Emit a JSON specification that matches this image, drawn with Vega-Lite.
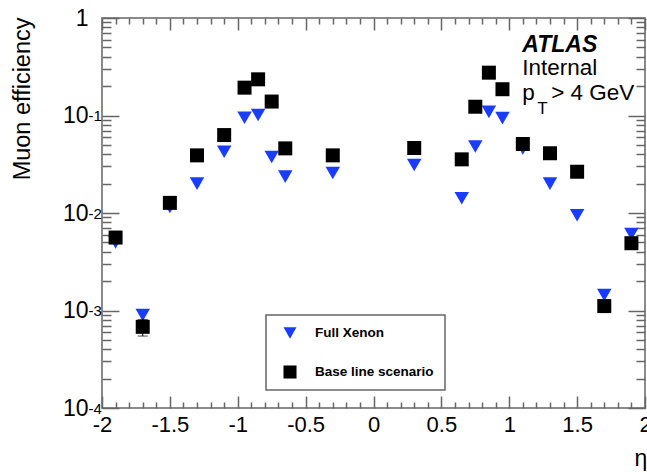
{
  "$schema": "https://vega.github.io/schema/vega-lite/v6.json",
  "width": 543,
  "height": 390,
  "autosize": {"type": "none"},
  "padding": {"left": 102, "top": 18, "right": 2, "bottom": 64},
  "background": "white",
  "config": {
    "view": {"stroke": "#666666", "strokeWidth": 1.5},
    "font": "Liberation Sans",
    "axis": {
      "labelFont": "Liberation Sans",
      "titleFont": "Liberation Sans",
      "labelColor": "black",
      "titleColor": "black",
      "tickColor": "#666666",
      "tickWidth": 1.5,
      "domain": false,
      "grid": false,
      "labelFontWeight": "normal",
      "titleFontWeight": "normal",
      "labelOverlap": false,
      "labelFlush": false
    },
    "legend": {
      "labelFont": "Liberation Sans",
      "labelFontSize": 13.5,
      "labelFontWeight": "bold",
      "labelColor": "black",
      "padding": 11,
      "rowPadding": 25,
      "symbolOffset": 6,
      "labelOffset": 18,
      "strokeColor": "#666666",
      "strokeWidth": 1.5,
      "fillColor": "white",
      "symbolSize": 170,
      "symbolStrokeWidth": 0
    }
  },
  "datasets": {
    "pts": [
      {"eta": -1.9, "eff": 0.0050, "series": "Full Xenon"},
      {"eta": -1.7, "eff": 0.00090, "series": "Full Xenon"},
      {"eta": -1.5, "eff": 0.0115, "series": "Full Xenon"},
      {"eta": -1.3, "eff": 0.020, "series": "Full Xenon"},
      {"eta": -1.1, "eff": 0.0425, "series": "Full Xenon"},
      {"eta": -0.95, "eff": 0.095, "series": "Full Xenon"},
      {"eta": -0.85, "eff": 0.101, "series": "Full Xenon"},
      {"eta": -0.75, "eff": 0.0375, "series": "Full Xenon"},
      {"eta": -0.65, "eff": 0.0236, "series": "Full Xenon"},
      {"eta": -0.3, "eff": 0.0257, "series": "Full Xenon"},
      {"eta": 0.3, "eff": 0.031, "series": "Full Xenon"},
      {"eta": 0.65, "eff": 0.0142, "series": "Full Xenon"},
      {"eta": 0.75, "eff": 0.048, "series": "Full Xenon"},
      {"eta": 0.85, "eff": 0.109, "series": "Full Xenon"},
      {"eta": 0.95, "eff": 0.094, "series": "Full Xenon"},
      {"eta": 1.1, "eff": 0.046, "series": "Full Xenon"},
      {"eta": 1.3, "eff": 0.020, "series": "Full Xenon"},
      {"eta": 1.5, "eff": 0.0095, "series": "Full Xenon"},
      {"eta": 1.7, "eff": 0.00144, "series": "Full Xenon"},
      {"eta": 1.9, "eff": 0.0061, "series": "Full Xenon"},
      {"eta": -1.9, "eff": 0.0056, "series": "Base line scenario"},
      {"eta": -1.7, "eff": 0.00068, "series": "Base line scenario", "lo": 0.000547, "hi": 0.00081},
      {"eta": -1.5, "eff": 0.0127, "series": "Base line scenario"},
      {"eta": -1.3, "eff": 0.039, "series": "Base line scenario"},
      {"eta": -1.1, "eff": 0.063, "series": "Base line scenario"},
      {"eta": -0.95, "eff": 0.193, "series": "Base line scenario"},
      {"eta": -0.85, "eff": 0.235, "series": "Base line scenario"},
      {"eta": -0.75, "eff": 0.139, "series": "Base line scenario"},
      {"eta": -0.65, "eff": 0.046, "series": "Base line scenario"},
      {"eta": -0.3, "eff": 0.039, "series": "Base line scenario"},
      {"eta": 0.3, "eff": 0.0464, "series": "Base line scenario"},
      {"eta": 0.65, "eff": 0.0355, "series": "Base line scenario"},
      {"eta": 0.75, "eff": 0.123, "series": "Base line scenario"},
      {"eta": 0.85, "eff": 0.275, "series": "Base line scenario"},
      {"eta": 0.95, "eff": 0.186, "series": "Base line scenario"},
      {"eta": 1.1, "eff": 0.051, "series": "Base line scenario"},
      {"eta": 1.3, "eff": 0.041, "series": "Base line scenario"},
      {"eta": 1.5, "eff": 0.0265, "series": "Base line scenario"},
      {"eta": 1.7, "eff": 0.00111, "series": "Base line scenario"},
      {"eta": 1.9, "eff": 0.0049, "series": "Base line scenario"}
    ],
    "ann": [
      {"x": 1.096, "y": 0.448, "t": "ATLAS"},
      {"x": 1.096, "y": 0.26, "t": "Internal"},
      {"x": 1.096, "y": 0.144, "t": "p"},
      {"x": 1.309, "y": 0.144, "t": "> 4 GeV"},
      {"x": 1.206, "y": 0.1036, "t": "T"}
    ]
  },
  "layer": [
    {
      "data": {"name": "pts"},
      "transform": [{"filter": "datum.series === 'Full Xenon'"}],
      "mark": {"type": "point", "filled": true, "opacity": 1, "size": 210},
      "encoding": {
        "x": {
          "field": "eta", "type": "quantitative",
          "scale": {"domain": [-2, 2], "nice": false, "zero": false},
          "axis": {
            "orient": "top", "labels": false, "title": null,
            "values": [-2,-1.9,-1.8,-1.7,-1.6,-1.5,-1.4,-1.3,-1.2,-1.1,-1,-0.9,-0.8,-0.7,-0.6,-0.5,-0.4,-0.3,-0.2,-0.1,0,0.1,0.2,0.3,0.4,0.5,0.6,0.7,0.8,0.9,1,1.1,1.2,1.3,1.4,1.5,1.6,1.7,1.8,1.9,2],
            "tickSize": {"condition": {"test": "abs(datum.value*2 - round(datum.value*2)) < 0.001", "value": -12}, "value": -6}
          }
        },
        "y": {
          "field": "eff", "type": "quantitative",
          "scale": {"type": "log", "domain": [0.0001, 1], "nice": false},
          "axis": {
            "orient": "right", "labels": false, "title": null,
            "values": [0.0001,0.0002,0.0003,0.0004,0.0005,0.0006,0.0007,0.0008,0.0009,0.001,0.002,0.003,0.004,0.005,0.006,0.007,0.008,0.009,0.01,0.02,0.03,0.04,0.05,0.06,0.07,0.08,0.09,0.1,0.2,0.3,0.4,0.5,0.6,0.7,0.8,0.9,1],
            "tickSize": {"condition": {"test": "abs(log(datum.value)/LN10 - round(log(datum.value)/LN10)) < 0.001", "value": -17}, "value": -9}
          }
        },
        "color": {
          "field": "series", "type": "nominal",
          "scale": {"domain": ["Full Xenon", "Base line scenario"], "range": ["#1a3cff", "#000000"]},
          "legend": {"orient": "none", "legendX": 164, "legendY": 297, "title": null}
        },
        "shape": {
          "field": "series", "type": "nominal",
          "scale": {"domain": ["Full Xenon", "Base line scenario"], "range": ["triangle-down", "square"]},
          "legend": {"orient": "none", "legendX": 164, "legendY": 297, "title": null}
        }
      }
    },
    {
      "data": {"name": "pts"},
      "transform": [{"filter": "isValid(datum.lo)"}],
      "mark": {"type": "errorbar", "color": "black", "ticks": {"size": 10, "color": "black"}},
      "encoding": {
        "x": {"field": "eta", "type": "quantitative", "axis": null},
        "y": {"field": "lo", "type": "quantitative", "axis": null},
        "y2": {"field": "hi"}
      }
    },
    {
      "data": {"name": "pts"},
      "transform": [{"filter": "datum.series === 'Base line scenario'"}],
      "mark": {"type": "point", "filled": true, "opacity": 1, "size": 196},
      "encoding": {
        "x": {
          "field": "eta", "type": "quantitative",
          "axis": {
            "orient": "bottom",
            "values": [-2,-1.9,-1.8,-1.7,-1.6,-1.5,-1.4,-1.3,-1.2,-1.1,-1,-0.9,-0.8,-0.7,-0.6,-0.5,-0.4,-0.3,-0.2,-0.1,0,0.1,0.2,0.3,0.4,0.5,0.6,0.7,0.8,0.9,1,1.1,1.2,1.3,1.4,1.5,1.6,1.7,1.8,1.9,2],
            "tickSize": {"condition": {"test": "abs(datum.value*2 - round(datum.value*2)) < 0.001", "value": -12}, "value": -6},
            "labelExpr": "abs(datum.value*2 - round(datum.value*2)) < 0.001 ? '' + datum.value : ''",
            "labelFontSize": 22,
            "labelPadding": 18,
            "title": "η",
            "titleFontSize": 23,
            "titleX": 532,
            "titleY": 57,
            "titleAlign": "left",
            "titleBaseline": "alphabetic",
            "titleAngle": 0
          }
        },
        "y": {
          "field": "eff", "type": "quantitative",
          "axis": {
            "orient": "left",
            "values": [0.0001,0.0002,0.0003,0.0004,0.0005,0.0006,0.0007,0.0008,0.0009,0.001,0.002,0.003,0.004,0.005,0.006,0.007,0.008,0.009,0.01,0.02,0.03,0.04,0.05,0.06,0.07,0.08,0.09,0.1,0.2,0.3,0.4,0.5,0.6,0.7,0.8,0.9,1],
            "tickSize": {"condition": {"test": "abs(log(datum.value)/LN10 - round(log(datum.value)/LN10)) < 0.001", "value": -17}, "value": -9},
            "labelExpr": "abs(log(datum.value)/LN10 - round(log(datum.value)/LN10)) < 0.001 ? (datum.value > 0.5 ? '1' : '10') : ''",
            "labelFontSize": 23,
            "labelPadding": 31,
            "labelBaseline": "middle",
            "labelDy": 1,
            "title": "Muon efficiency",
            "titleFontSize": 23.5,
            "titleAngle": -90,
            "titleX": -73,
            "titleY": -1,
            "titleAlign": "right",
            "titleBaseline": "alphabetic"
          }
        },
        "color": {
          "field": "series", "type": "nominal",
          "legend": {"orient": "none", "legendX": 164, "legendY": 297, "title": null}
        },
        "shape": {
          "field": "series", "type": "nominal",
          "legend": {"orient": "none", "legendX": 164, "legendY": 297, "title": null}
        }
      }
    },
    {
      "data": {"name": "pts"},
      "mark": {"type": "point", "opacity": 0},
      "encoding": {
        "x": {"field": "eta", "type": "quantitative", "axis": null},
        "y": {
          "field": "eff", "type": "quantitative",
          "axis": {
            "orient": "left",
            "values": [0.0001, 0.001, 0.01, 0.1],
            "ticks": false,
            "tickSize": 0,
            "labelExpr": "'-' + round(-log(datum.value)/LN10)",
            "labelFontSize": 15,
            "labelAlign": "left",
            "labelBaseline": "middle",
            "labelPadding": 14,
            "labelDy": -4,
            "title": null
          }
        }
      }
    },
    {
      "data": {"name": "ann"},
      "transform": [{"filter": "datum.t === 'ATLAS'"}],
      "mark": {"type": "text", "align": "left", "baseline": "alphabetic", "fontSize": 23, "fontWeight": "bold", "fontStyle": "italic", "font": "Liberation Sans", "color": "black"},
      "encoding": {
        "x": {"field": "x", "type": "quantitative", "axis": null},
        "y": {"field": "y", "type": "quantitative", "axis": null},
        "text": {"field": "t"}
      }
    },
    {
      "data": {"name": "ann"},
      "transform": [{"filter": "datum.t !== 'ATLAS' && datum.t !== 'T'"}],
      "mark": {"type": "text", "align": "left", "baseline": "alphabetic", "fontSize": 22.5, "font": "Liberation Sans", "color": "black"},
      "encoding": {
        "x": {"field": "x", "type": "quantitative", "axis": null},
        "y": {"field": "y", "type": "quantitative", "axis": null},
        "text": {"field": "t"}
      }
    },
    {
      "data": {"name": "ann"},
      "transform": [{"filter": "datum.t === 'T'"}],
      "mark": {"type": "text", "align": "left", "baseline": "alphabetic", "fontSize": 17, "font": "Liberation Sans", "color": "black"},
      "encoding": {
        "x": {"field": "x", "type": "quantitative", "axis": null},
        "y": {"field": "y", "type": "quantitative", "axis": null},
        "text": {"field": "t"}
      }
    }
  ],
  "resolve": {"axis": {"x": "independent", "y": "independent"}}
}
